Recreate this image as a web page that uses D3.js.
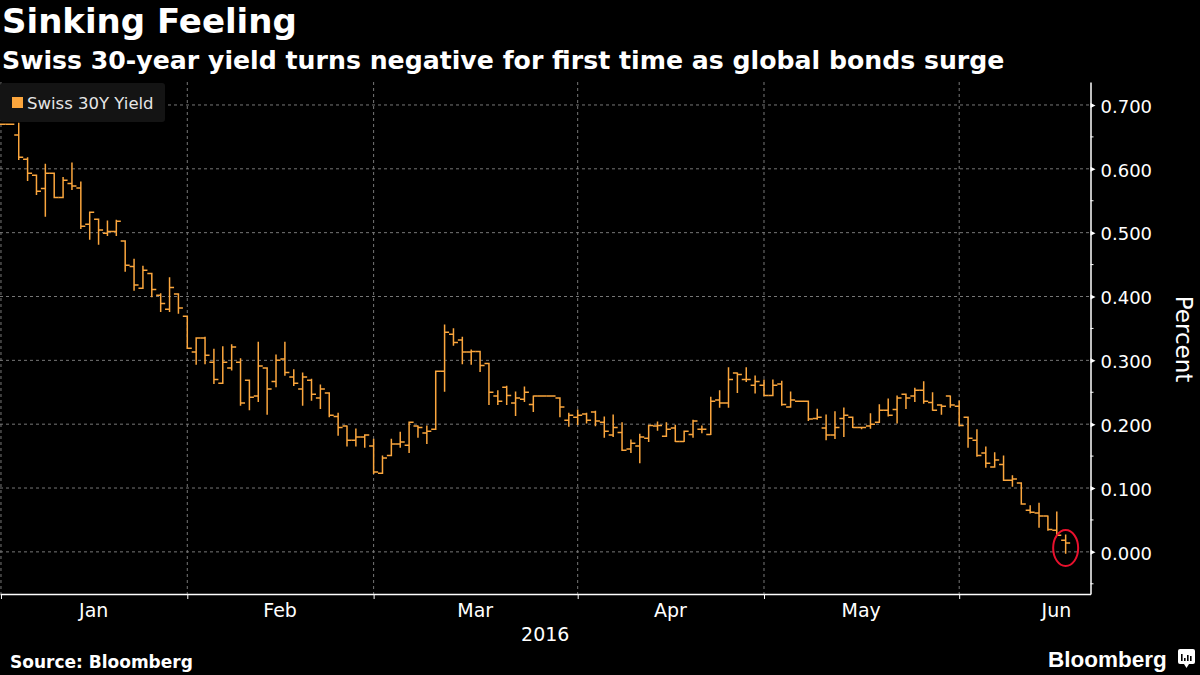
<!DOCTYPE html>
<html>
<head>
<meta charset="utf-8">
<script src="https://cdn.jsdelivr.net/npm/d3@7"></script>
<style>
  html, body { margin: 0; padding: 0; background: #000; }
  svg { display: block; font-family: "DejaVu Sans", sans-serif; }
</style>
</head>
<body>
<div id="chart"></div>
<script>
// daily OHLC of Swiss 30Y yield, one entry per weekday starting Jan 1 2016
const opens = [
  0.670, 0.670, 0.653, 0.615, 0.590, 0.569, 0.593, 0.555, 0.577, 0.570,
  0.513, 0.521, 0.499, 0.502, 0.487, 0.447, 0.413, 0.436, 0.402, 0.380,
  0.404, 0.369, 0.313, 0.335, 0.297, 0.264, 0.288, 0.297, 0.269, 0.244,
  0.288, 0.267, 0.302, 0.274, 0.255, 0.269, 0.241, 0.249, 0.212, 0.197,
  0.175, 0.180, 0.166, 0.123, 0.151, 0.169, 0.167, 0.197, 0.186, 0.192,
  0.283, 0.341, 0.332, 0.313, 0.314, 0.295, 0.244, 0.258, 0.233, 0.239,
  0.231, 0.244, 0.244, 0.241, 0.206, 0.211, 0.216, 0.219, 0.203, 0.183,
  0.187, 0.161, 0.166, 0.178, 0.197, 0.181, 0.194, 0.173, 0.184, 0.192,
  0.184, 0.238, 0.233, 0.280, 0.270, 0.261, 0.261, 0.245, 0.263, 0.227,
  0.236, 0.236, 0.209, 0.194, 0.183, 0.209, 0.211, 0.195, 0.197, 0.203,
  0.222, 0.223, 0.247, 0.244, 0.253, 0.234, 0.230, 0.244, 0.228, 0.211,
  0.175, 0.155, 0.133, 0.137, 0.112, 0.108, 0.065, 0.061, 0.056, 0.034,
  0.018
];
const highs = [
  0.670, 0.670, 0.671, 0.617, 0.590, 0.607, 0.593, 0.586, 0.609, 0.579,
  0.532, 0.521, 0.518, 0.519, 0.487, 0.458, 0.447, 0.436, 0.404, 0.429,
  0.404, 0.369, 0.335, 0.336, 0.317, 0.321, 0.324, 0.302, 0.269, 0.328,
  0.288, 0.308, 0.328, 0.285, 0.280, 0.270, 0.261, 0.249, 0.217, 0.197,
  0.192, 0.183, 0.176, 0.150, 0.176, 0.187, 0.203, 0.197, 0.197, 0.283,
  0.355, 0.349, 0.336, 0.316, 0.314, 0.295, 0.252, 0.259, 0.250, 0.258,
  0.244, 0.244, 0.244, 0.241, 0.217, 0.222, 0.217, 0.220, 0.211, 0.214,
  0.202, 0.175, 0.184, 0.198, 0.203, 0.202, 0.198, 0.189, 0.206, 0.197,
  0.242, 0.252, 0.288, 0.280, 0.288, 0.275, 0.269, 0.269, 0.267, 0.250,
  0.236, 0.236, 0.223, 0.214, 0.219, 0.225, 0.211, 0.195, 0.216, 0.230,
  0.239, 0.244, 0.247, 0.256, 0.266, 0.249, 0.230, 0.244, 0.236, 0.211,
  0.191, 0.164, 0.155, 0.150, 0.119, 0.108, 0.072, 0.076, 0.056, 0.062,
  0.026
];
const lows = [
  0.670, 0.670, 0.615, 0.582, 0.560, 0.526, 0.555, 0.555, 0.568, 0.507,
  0.490, 0.482, 0.496, 0.496, 0.440, 0.410, 0.413, 0.400, 0.377, 0.377,
  0.374, 0.319, 0.294, 0.295, 0.264, 0.264, 0.285, 0.230, 0.223, 0.236,
  0.216, 0.259, 0.277, 0.261, 0.230, 0.238, 0.225, 0.212, 0.183, 0.166,
  0.166, 0.164, 0.123, 0.123, 0.151, 0.164, 0.156, 0.180, 0.170, 0.192,
  0.252, 0.324, 0.295, 0.294, 0.283, 0.231, 0.231, 0.231, 0.214, 0.236,
  0.220, 0.244, 0.244, 0.212, 0.197, 0.200, 0.202, 0.198, 0.180, 0.181,
  0.159, 0.156, 0.140, 0.173, 0.191, 0.181, 0.173, 0.173, 0.180, 0.187,
  0.184, 0.227, 0.227, 0.250, 0.267, 0.249, 0.245, 0.245, 0.230, 0.227,
  0.236, 0.206, 0.208, 0.176, 0.178, 0.181, 0.195, 0.193, 0.194, 0.203,
  0.213, 0.202, 0.225, 0.236, 0.233, 0.222, 0.216, 0.227, 0.198, 0.164,
  0.150, 0.133, 0.133, 0.112, 0.103, 0.075, 0.061, 0.039, 0.034, 0.026,
  -0.002
];
const closes = [
  0.670, 0.670, 0.618, 0.593, 0.565, 0.593, 0.555, 0.582, 0.573, 0.510,
  0.532, 0.504, 0.502, 0.518, 0.449, 0.418, 0.441, 0.411, 0.389, 0.414,
  0.382, 0.319, 0.335, 0.308, 0.270, 0.297, 0.321, 0.233, 0.242, 0.291,
  0.255, 0.300, 0.281, 0.264, 0.274, 0.247, 0.255, 0.214, 0.195, 0.175,
  0.180, 0.183, 0.125, 0.147, 0.169, 0.172, 0.203, 0.195, 0.189, 0.283,
  0.344, 0.328, 0.313, 0.314, 0.292, 0.250, 0.236, 0.245, 0.241, 0.250,
  0.244, 0.244, 0.244, 0.227, 0.214, 0.214, 0.206, 0.205, 0.189, 0.195,
  0.159, 0.170, 0.180, 0.198, 0.198, 0.192, 0.173, 0.189, 0.205, 0.192,
  0.236, 0.233, 0.270, 0.278, 0.270, 0.267, 0.245, 0.261, 0.231, 0.238,
  0.236, 0.208, 0.211, 0.183, 0.195, 0.214, 0.195, 0.195, 0.200, 0.222,
  0.214, 0.241, 0.241, 0.253, 0.236, 0.222, 0.228, 0.230, 0.198, 0.178,
  0.151, 0.139, 0.144, 0.112, 0.114, 0.075, 0.062, 0.056, 0.035, 0.026,
  0.014
];

// months: label and weekday index of the first weekday
const months = ["Jan", "Feb", "Mar", "Apr", "May", "Jun"];
const monthStarts = [0, 21, 42, 65, 86, 108, 130];
const yearLabel = "2016";
const yTicks = [0, 0.1, 0.2, 0.3, 0.4, 0.5, 0.6, 0.7];
const yMinorTicks = [-0.05, 0.05, 0.15, 0.25, 0.35, 0.45, 0.55, 0.65];

const seriesName = "Swiss 30Y Yield";
const title = "Sinking Feeling";
const subtitle = "Swiss 30-year yield turns negative for first time as global bonds surge";
const source = "Source: Bloomberg";
const yLabel = "Percent";
const highlightIndex = 120;     // the bar circled in red
const highlightValue = 0.006;

const W = 1200, H = 675;
const orange = "#fba63d";

const svg = d3.select("#chart").append("svg")
    .attr("width", W)
    .attr("height", H);

svg.append("rect").attr("width", W).attr("height", H).attr("fill", "#000");

// plot area
const plot = {left: 0, right: 1090.5, top: 82, bottom: 594};

const x = d3.scaleLinear().domain([-0.11, 122.8]).range([plot.left, plot.right]);
const y = d3.scaleLinear().domain([-0.066, 0.736]).range([plot.bottom, plot.top]);

// titles
svg.append("text")
    .attr("x", 2).attr("y", 33)
    .attr("fill", "#fff")
    .attr("font-weight", "bold")
    .attr("font-size", 34)
    .text(title);

svg.append("text")
    .attr("x", 2).attr("y", 69)
    .attr("fill", "#fff")
    .attr("font-weight", "bold")
    .attr("font-size", 25.2)
    .text(subtitle);

// grid
const grid = svg.append("g");
grid.selectAll(".hgrid")
    .data(yTicks)
    .join("line")
    .attr("x1", plot.left).attr("x2", plot.right)
    .attr("y1", d => y(d)).attr("y2", d => y(d))
    .attr("stroke", "#777")
    .attr("stroke-dasharray", "3,3");

grid.selectAll(".vgrid")
    .data(monthStarts.slice(0, months.length))
    .join("line")
    .attr("x1", d => x(d)).attr("x2", d => x(d))
    .attr("y1", plot.top).attr("y2", plot.bottom)
    .attr("stroke", "#777")
    .attr("stroke-dasharray", "3,3");

// legend
const legend = svg.append("g");
legend.append("rect")
    .attr("x", 0).attr("y", 83)
    .attr("width", 165).attr("height", 39)
    .attr("rx", 3)
    .attr("fill", "#141414");
legend.append("rect")
    .attr("x", 12).attr("y", 97)
    .attr("width", 11).attr("height", 11)
    .attr("fill", orange);
legend.append("text")
    .attr("x", 27).attr("y", 109)
    .attr("fill", "#e6e6e6")
    .attr("font-size", 16.5)
    .text(seriesName);

// OHLC bars
const bars = opens.map((o, i) => ({i: i, o: o, h: highs[i], l: lows[i], c: closes[i]}));
const tick = 4.5;

svg.append("clipPath").attr("id", "clip")
    .append("rect")
    .attr("x", plot.left).attr("y", plot.top)
    .attr("width", plot.right - plot.left).attr("height", plot.bottom - plot.top);

svg.append("g")
    .attr("clip-path", "url(#clip)")
    .selectAll("path")
    .data(bars)
    .join("path")
    .attr("d", d => {
        let cx = x(d.i);
        return `M${cx - tick},${y(d.o)}H${cx}` +
            `M${cx},${y(d.h) - 0.7}V${y(d.l) + 0.7}` +
            `M${cx},${y(d.c)}H${cx + tick}`;
    })
    .attr("fill", "none")
    .attr("stroke", orange)
    .attr("stroke-width", 1.5);

// red highlight circle
svg.append("ellipse")
    .attr("cx", x(highlightIndex))
    .attr("cy", y(highlightValue))
    .attr("rx", 12.5).attr("ry", 18)
    .attr("fill", "none")
    .attr("stroke", "#e8112d")
    .attr("stroke-width", 2);

// right axis
const yAxis = svg.append("g")
    .attr("transform", `translate(${plot.right},0)`)
    .call(d3.axisRight(y)
        .tickValues(yTicks)
        .tickSize(0)
        .tickPadding(10)
        .tickFormat(d3.format(".3f")));

yAxis.select(".domain").attr("stroke", "#fff").attr("stroke-width", 1.5);
yAxis.selectAll(".tick text")
    .attr("fill", "#fff")
    .attr("font-size", 18)
    .attr("font-family", "DejaVu Sans")
    .attr("dy", "0.4em");
yAxis.selectAll(".tick")
    .append("path")
    .attr("d", "M0,-2.5L5,0L0,2.5Z")
    .attr("fill", "#fff");

yAxis.selectAll(".minor")
    .data(yMinorTicks)
    .join("line")
    .attr("x1", 0).attr("x2", 3)
    .attr("y1", d => y(d)).attr("y2", d => y(d))
    .attr("stroke", "#fff");

svg.append("text")
    .attr("transform", `translate(1176,339) rotate(90)`)
    .attr("text-anchor", "middle")
    .attr("fill", "#fff")
    .attr("font-size", 23)
    .text(yLabel);

// bottom axis: ticks on month starts, labels mid-month
const xTicks = svg.append("g")
    .attr("transform", `translate(0,${plot.bottom})`)
    .call(d3.axisBottom(x)
        .tickValues(monthStarts.slice(0, months.length))
        .tickSize(5)
        .tickSizeOuter(0)
        .tickFormat(""));
xTicks.select(".domain").attr("stroke", "#fff").attr("stroke-width", 1.5);
xTicks.selectAll(".tick line").attr("stroke", "#fff");

const mids = months.map((m, k) => (monthStarts[k] + monthStarts[k + 1] - 1) / 2 + 0.4);
const xLabels = svg.append("g")
    .attr("transform", `translate(0,${plot.bottom})`)
    .call(d3.axisBottom(x)
        .tickValues(mids)
        .tickSize(0)
        .tickPadding(9.5)
        .tickFormat((d, k) => months[k]));
xLabels.select(".domain").remove();
xLabels.selectAll(".tick text")
    .attr("fill", "#fff")
    .attr("font-size", 19)
    .attr("font-family", "DejaVu Sans");

svg.append("text")
    .attr("x", (plot.left + plot.right) / 2)
    .attr("y", 641)
    .attr("text-anchor", "middle")
    .attr("fill", "#fff")
    .attr("font-size", 19)
    .text(yearLabel);

// footer
svg.append("text")
    .attr("x", 10).attr("y", 668)
    .attr("fill", "#fff")
    .attr("font-weight", "bold")
    .attr("font-size", 17)
    .text(source);

svg.append("text")
    .attr("x", 1048).attr("y", 667)
    .attr("fill", "#fff")
    .attr("font-family", "Liberation Sans, Arial, sans-serif")
    .attr("font-weight", "bold")
    .attr("font-size", 22.5)
    .text("Bloomberg");

// small logo icon
const icon = svg.append("g").attr("transform", "translate(1178,649)");
icon.append("rect")
    .attr("width", 17).attr("height", 15).attr("rx", 2)
    .attr("fill", "#fff");
icon.append("path")
    .attr("d", "M6,15L8.5,19L11,15Z")
    .attr("fill", "#fff");
icon.selectAll(".bar")
    .data([[4, 7], [7, 3], [10, 6], [13, 5]])
    .join("rect")
    .attr("x", d => d[0] - 1)
    .attr("y", d => 12 - d[1])
    .attr("width", 1.6)
    .attr("height", d => d[1])
    .attr("fill", "#000");
</script>
</body>
</html>
